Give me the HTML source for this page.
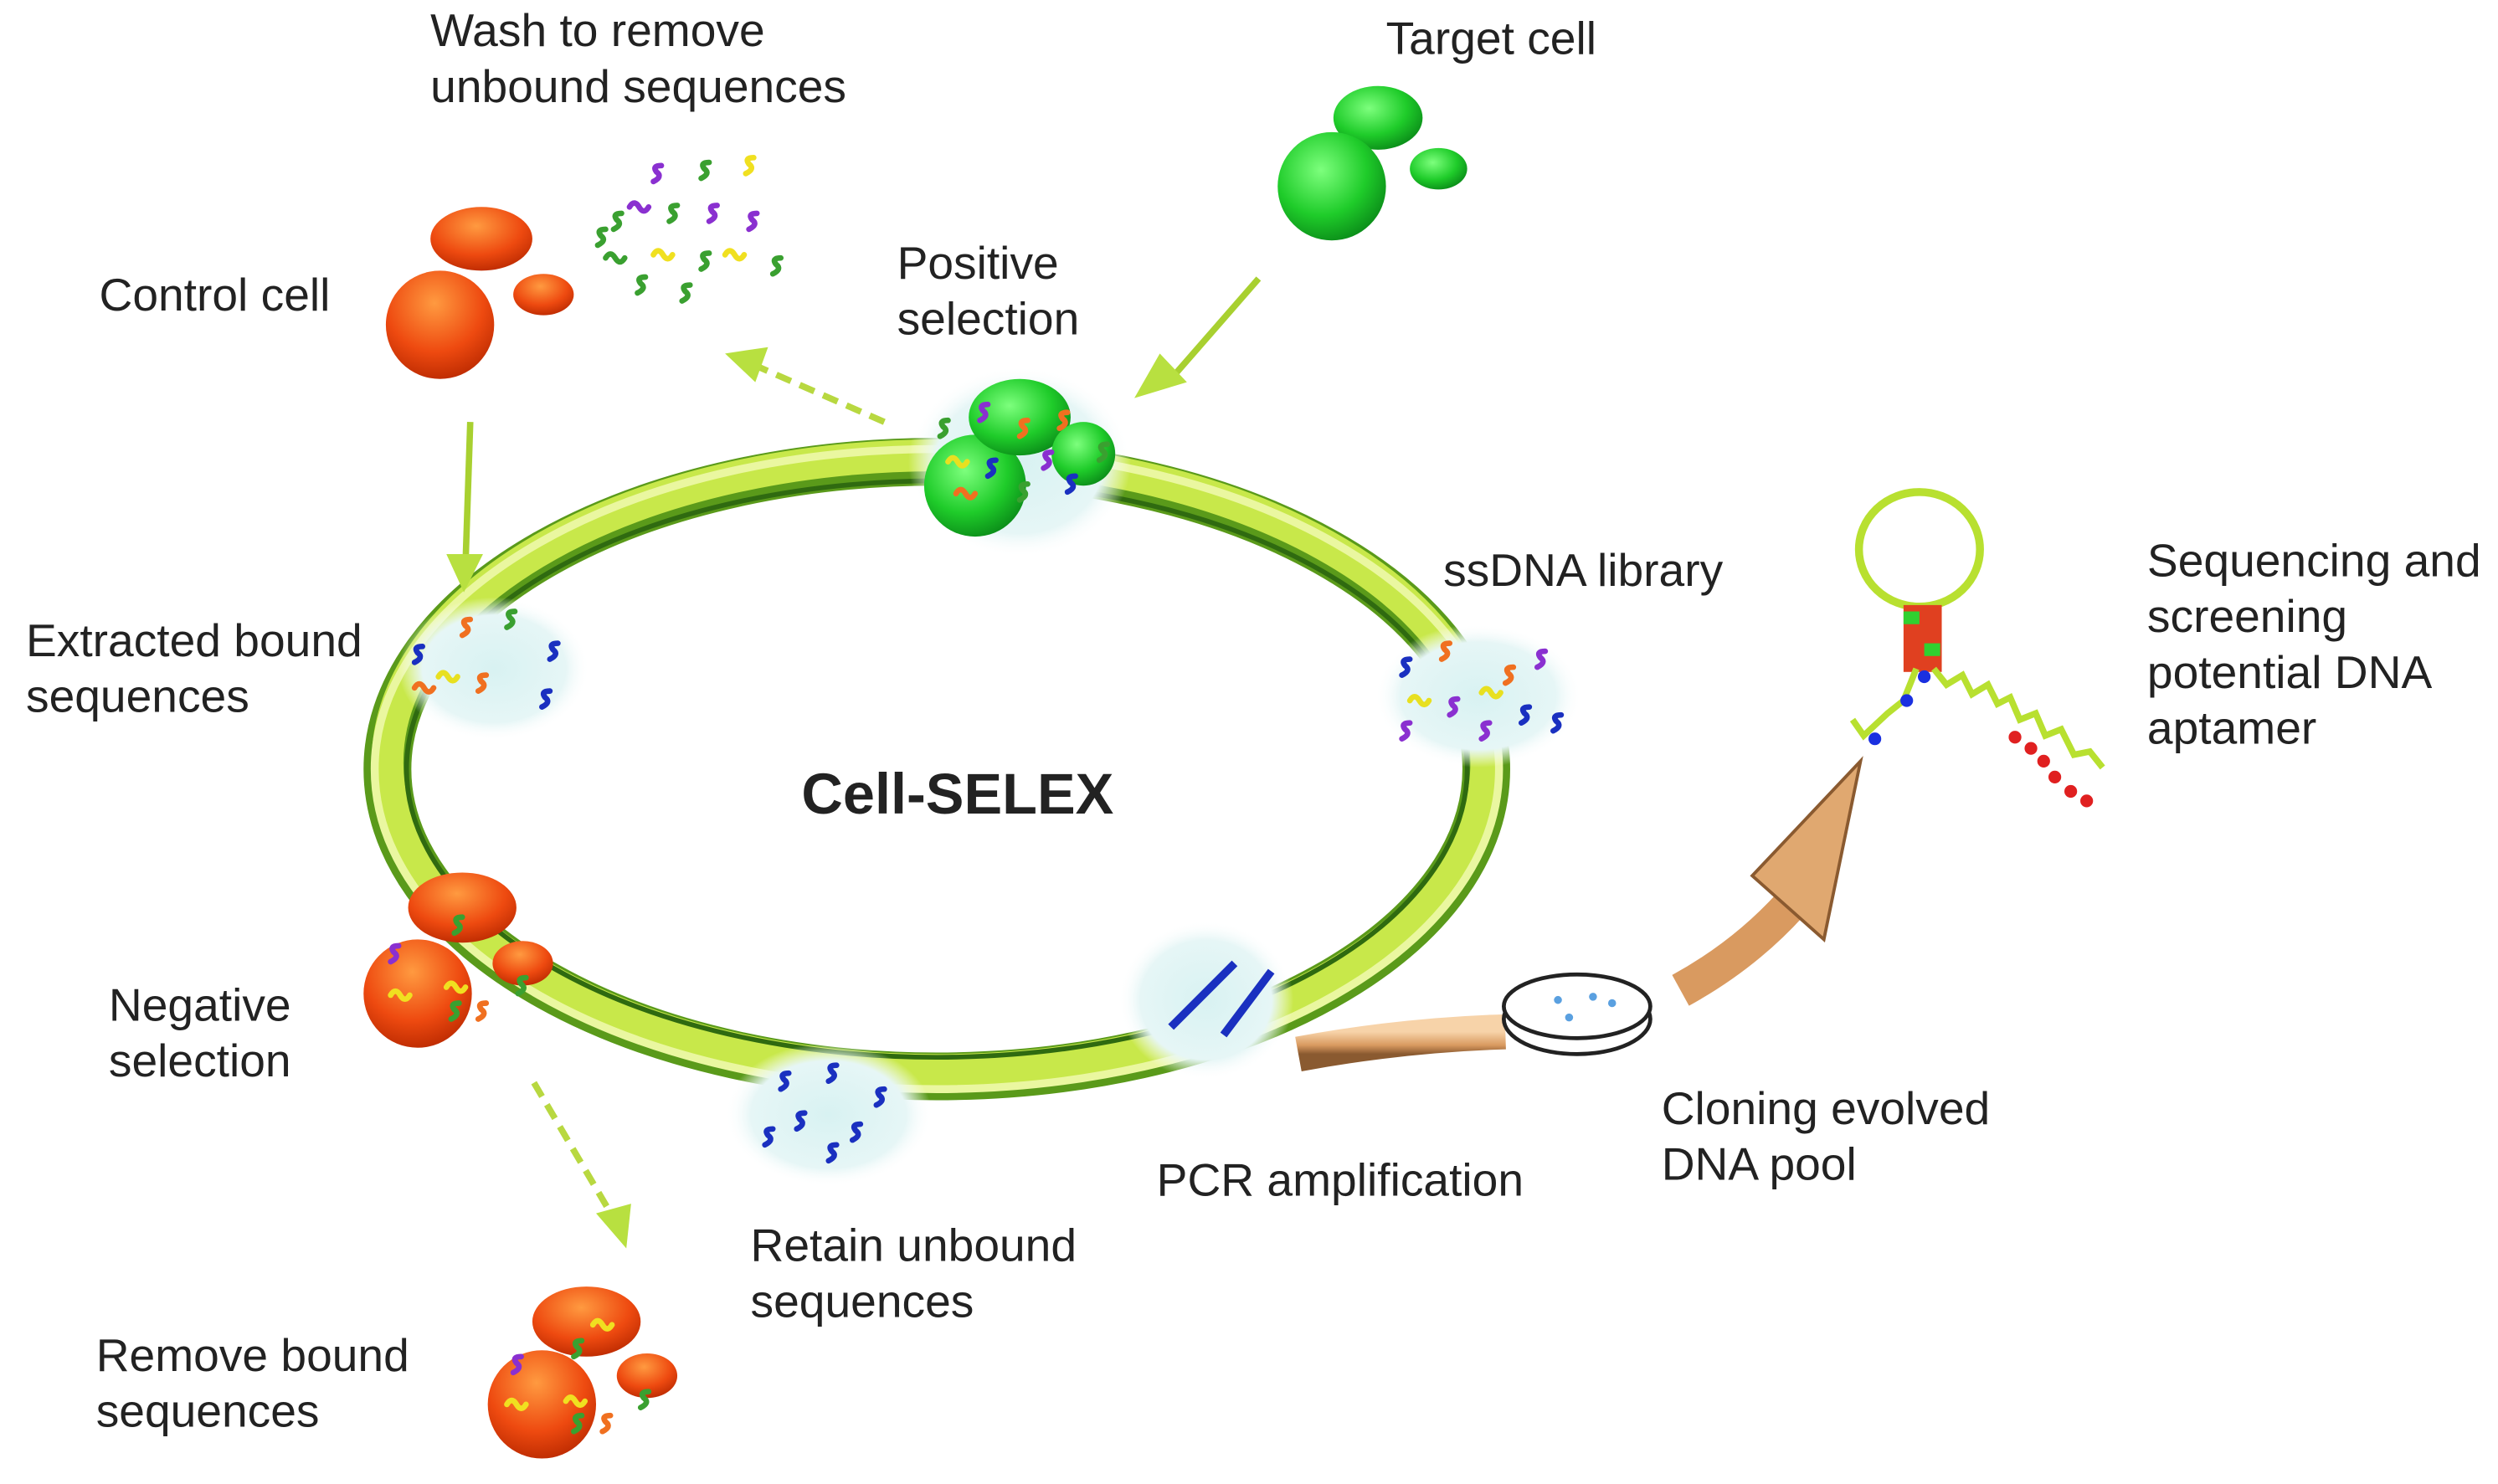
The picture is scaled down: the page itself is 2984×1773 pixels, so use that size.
<!DOCTYPE html>
<html><head><meta charset="utf-8"><style>
html,body{margin:0;padding:0;background:#fff}
svg{display:block}
text{font-family:"Liberation Sans",sans-serif;font-size:29px;fill:#222}
</style></head><body>
<svg width="2984" height="1773" viewBox="0 0 1568 932" xmlns="http://www.w3.org/2000/svg">
<defs>
<radialGradient id="gr" cx="0.4" cy="0.35" r="0.7"><stop offset="0" stop-color="#7dff7d"/><stop offset="0.6" stop-color="#1fcc2a"/><stop offset="1" stop-color="#0a8a18"/></radialGradient>
<radialGradient id="or" cx="0.45" cy="0.3" r="0.75"><stop offset="0" stop-color="#ff9a40"/><stop offset="0.6" stop-color="#ee4a10"/><stop offset="1" stop-color="#b82800"/></radialGradient>
<radialGradient id="fog" cx="0.5" cy="0.5" r="0.5"><stop offset="0" stop-color="#d8f2f2"/><stop offset="0.75" stop-color="#e6f6f6"/><stop offset="1" stop-color="#fff" stop-opacity="0"/></radialGradient>
<linearGradient id="tan" x1="0" y1="0" x2="0" y2="1"><stop offset="0" stop-color="#f7d3a9"/><stop offset="0.6" stop-color="#d99a60"/><stop offset="1" stop-color="#8a5a30"/></linearGradient>
<path id="sq" d="M0,0 q3,-5 6,0 t6,0" fill="none" stroke-width="3.5" stroke-linecap="round"/>
<path id="sg" d="M5,-6 q-6,0 -3,4 q4,3 -2,6" fill="none" stroke-width="3.5" stroke-linecap="round"/>
</defs>

<!-- ring -->
<ellipse cx="588" cy="483" rx="345" ry="193" fill="none" stroke="#5a9a1a" stroke-width="30"/>
<ellipse cx="588" cy="483" rx="345" ry="193" fill="none" stroke="#c8e84a" stroke-width="20" transform="translate(0,-4)"/>
<ellipse cx="588" cy="483" rx="353" ry="201" fill="none" stroke="#eaf7a0" stroke-width="5"/>
<ellipse cx="588" cy="483" rx="333" ry="181" fill="none" stroke="#2f6a10" stroke-width="3"/>

<!-- tan arrow -->
<path d="M815,662 Q880,650 945,648" stroke="url(#tan)" stroke-width="22" fill="none"/>
<path d="M1055,622 Q1095,600 1124,568" stroke="#d99a60" stroke-width="22" fill="none"/>
<polygon points="1168,478 1145,590 1100,550" fill="#e0a870" stroke="#8a5a30" stroke-width="2"/>

<!-- petri dish -->
<ellipse cx="990" cy="640" rx="46" ry="22" fill="#fff" stroke="#222" stroke-width="2.5"/>
<ellipse cx="990" cy="632" rx="46" ry="20" fill="#fff" stroke="#222" stroke-width="2.5"/>
<circle cx="978" cy="628" r="2.5" fill="#5aa0e0"/><circle cx="1000" cy="626" r="2.5" fill="#5aa0e0"/><circle cx="985" cy="639" r="2.5" fill="#5aa0e0"/><circle cx="1012" cy="630" r="2.5" fill="#5aa0e0"/>

<!-- fog clusters -->
<ellipse cx="310" cy="420" rx="60" ry="45" fill="url(#fog)"/>
<ellipse cx="928" cy="437" rx="65" ry="45" fill="url(#fog)"/>
<ellipse cx="520" cy="700" rx="65" ry="45" fill="url(#fog)"/>
<ellipse cx="757" cy="628" rx="55" ry="50" fill="url(#fog)"/>
<ellipse cx="640" cy="290" rx="70" ry="60" fill="url(#fog)"/>

<!-- positive selection green -->
<circle cx="612" cy="305" r="32" fill="url(#gr)"/>
<ellipse cx="640" cy="262" rx="32" ry="24" fill="url(#gr)"/>
<circle cx="680" cy="285" r="20" fill="url(#gr)"/>

<!-- squiggles -->
<g>
<use href="#sg" x="290" y="395" stroke="#f07020"/><use href="#sg" x="318" y="390" stroke="#3aa030"/><use href="#sg" x="260" y="412" stroke="#1a30c0"/>
<use href="#sq" x="275" y="425" stroke="#e8e020"/><use href="#sg" x="345" y="410" stroke="#1a30c0"/><use href="#sg" x="300" y="430" stroke="#f07020"/><use href="#sg" x="340" y="440" stroke="#1a30c0"/><use href="#sq" x="260" y="432" stroke="#f07020"/>
<use href="#sg" x="880" y="420" stroke="#1a30c0"/><use href="#sg" x="905" y="410" stroke="#f07020"/><use href="#sg" x="945" y="425" stroke="#f07020"/><use href="#sg" x="965" y="415" stroke="#8a30d0"/>
<use href="#sq" x="885" y="440" stroke="#e8e020"/><use href="#sg" x="910" y="445" stroke="#8a30d0"/><use href="#sg" x="955" y="450" stroke="#1a30c0"/><use href="#sg" x="975" y="455" stroke="#1a30c0"/><use href="#sg" x="880" y="460" stroke="#8a30d0"/><use href="#sg" x="930" y="460" stroke="#8a30d0"/><use href="#sq" x="930" y="435" stroke="#e8e020"/>
<use href="#sg" x="490" y="680" stroke="#1a30c0"/><use href="#sg" x="520" y="675" stroke="#1a30c0"/><use href="#sg" x="550" y="690" stroke="#1a30c0"/><use href="#sg" x="500" y="705" stroke="#1a30c0"/><use href="#sg" x="535" y="712" stroke="#1a30c0"/><use href="#sg" x="480" y="715" stroke="#1a30c0"/><use href="#sg" x="520" y="725" stroke="#1a30c0"/>
<path d="M735,645 q20,-20 40,-40 M768,650 q15,-20 30,-40" stroke="#1a30c0" stroke-width="5" fill="none"/>
<use href="#sg" x="590" y="270" stroke="#3aa030"/><use href="#sg" x="615" y="260" stroke="#8a30d0"/><use href="#sg" x="640" y="270" stroke="#f07020"/><use href="#sg" x="665" y="265" stroke="#f07020"/><use href="#sq" x="595" y="290" stroke="#e8e020"/><use href="#sg" x="620" y="295" stroke="#1a30c0"/><use href="#sg" x="655" y="290" stroke="#8a30d0"/><use href="#sg" x="690" y="285" stroke="#3aa030"/><use href="#sq" x="600" y="310" stroke="#f07020"/><use href="#sg" x="640" y="310" stroke="#3aa030"/><use href="#sg" x="670" y="305" stroke="#1a30c0"/>
</g>

<!-- washed sequences -->
<g>
<use href="#sg" x="410" y="110" stroke="#8a30d0"/><use href="#sg" x="440" y="108" stroke="#3aa030"/><use href="#sg" x="468" y="105" stroke="#f0e020"/><use href="#sg" x="385" y="140" stroke="#3aa030"/><use href="#sq" x="395" y="130" stroke="#8a30d0"/><use href="#sg" x="420" y="135" stroke="#3aa030"/><use href="#sg" x="445" y="135" stroke="#8a30d0"/><use href="#sg" x="470" y="140" stroke="#8a30d0"/><use href="#sq" x="380" y="162" stroke="#3aa030"/><use href="#sq" x="410" y="160" stroke="#f0e020"/><use href="#sg" x="440" y="165" stroke="#3aa030"/><use href="#sg" x="485" y="168" stroke="#3aa030"/><use href="#sg" x="400" y="180" stroke="#3aa030"/><use href="#sq" x="455" y="160" stroke="#f0e020"/><use href="#sg" x="375" y="150" stroke="#3aa030"/><use href="#sg" x="428" y="185" stroke="#3aa030"/>
</g>

<!-- target cells -->
<ellipse cx="865" cy="74" rx="28" ry="20" fill="url(#gr)"/>
<circle cx="836" cy="117" r="34" fill="url(#gr)"/>
<ellipse cx="903" cy="106" rx="18" ry="13" fill="url(#gr)"/>

<!-- control cells -->
<ellipse cx="302" cy="150" rx="32" ry="20" fill="url(#or)"/>
<circle cx="276" cy="204" r="34" fill="url(#or)"/>
<ellipse cx="341" cy="185" rx="19" ry="13" fill="url(#or)"/>

<!-- negative selection cells -->
<ellipse cx="290" cy="570" rx="34" ry="22" fill="url(#or)"/>
<circle cx="262" cy="624" r="34" fill="url(#or)"/>
<ellipse cx="328" cy="605" rx="19" ry="14" fill="url(#or)"/>
<use href="#sg" x="245" y="600" stroke="#8a30d0"/><use href="#sg" x="285" y="582" stroke="#3aa030"/><use href="#sq" x="245" y="625" stroke="#f0e020"/><use href="#sq" x="280" y="620" stroke="#f0e020"/><use href="#sg" x="283" y="636" stroke="#3aa030"/><use href="#sg" x="300" y="636" stroke="#f07020"/><use href="#sg" x="325" y="620" stroke="#3aa030"/>

<!-- remove bound cells -->
<ellipse cx="368" cy="830" rx="34" ry="22" fill="url(#or)"/>
<circle cx="340" cy="882" r="34" fill="url(#or)"/>
<ellipse cx="406" cy="864" rx="19" ry="14" fill="url(#or)"/>
<use href="#sg" x="322" y="858" stroke="#8a30d0"/><use href="#sq" x="372" y="832" stroke="#f0e020"/><use href="#sg" x="360" y="848" stroke="#3aa030"/><use href="#sq" x="318" y="882" stroke="#f0e020"/><use href="#sq" x="355" y="880" stroke="#f0e020"/><use href="#sg" x="360" y="895" stroke="#3aa030"/><use href="#sg" x="378" y="895" stroke="#f07020"/><use href="#sg" x="402" y="880" stroke="#3aa030"/>

<!-- arrows -->
<path d="M790,175 L735,238" stroke="#a8d030" stroke-width="4" fill="none"/>
<path d="M712,250 L728,222 L745,240 Z" fill="#b8e040"/>
<path d="M295,265 L292,355" stroke="#a8d030" stroke-width="4" fill="none"/>
<path d="M291,372 L280,348 L303,348 Z" fill="#b8e040"/>
<path d="M555,265 L475,230" stroke="#b8d840" stroke-width="4" stroke-dasharray="10,6" fill="none"/>
<path d="M455,222 L482,218 L474,240 Z" fill="#b8e040"/>
<path d="M335,680 L385,765" stroke="#b8d840" stroke-width="4" stroke-dasharray="10,6" fill="none"/>
<path d="M393,784 L374,762 L396,756 Z" fill="#b8e040"/>

<!-- aptamer -->
<ellipse cx="1205" cy="345" rx="38" ry="36" fill="none" stroke="#b8e030" stroke-width="5"/>
<rect x="1195" y="380" width="24" height="42" fill="#e04020"/>
<rect x="1195" y="384" width="10" height="8" fill="#30d030"/><rect x="1208" y="404" width="10" height="8" fill="#30d030"/>
<path d="M1203,420 L1195,440 L1185,448 L1170,462 L1163,452" stroke="#b8e030" stroke-width="4" fill="none"/>
<path d="M1214,420 l8,10 l10,-6 l6,12 l10,-6 l6,12 l8,-4 l6,14 l10,-4 l6,14 l10,-4 l8,16 l10,-2 l8,10" stroke="#b8e030" stroke-width="4" fill="none"/>
<g fill="#e02020"><circle cx="1265" cy="463" r="4"/><circle cx="1275" cy="470" r="4"/><circle cx="1283" cy="478" r="4"/><circle cx="1290" cy="488" r="4"/><circle cx="1300" cy="497" r="4"/><circle cx="1310" cy="503" r="4"/></g>
<g fill="#1a30e0"><circle cx="1208" cy="425" r="4"/><circle cx="1197" cy="440" r="4"/><circle cx="1177" cy="464" r="4"/></g>

<!-- labels -->
<text x="270" y="29">Wash to remove</text>
<text x="270" y="64">unbound sequences</text>
<text x="870" y="34">Target cell</text>
<text x="62" y="195">Control cell</text>
<text x="563" y="175">Positive</text>
<text x="563" y="210">selection</text>
<text x="906" y="368">ssDNA library</text>
<text x="1348" y="362">Sequencing and</text>
<text x="1348" y="397">screening</text>
<text x="1348" y="432">potential DNA</text>
<text x="1348" y="467">aptamer</text>
<text x="16" y="412">Extracted bound</text>
<text x="16" y="447">sequences</text>
<text x="503" y="511" style="font-weight:bold;font-size:36px">Cell-SELEX</text>
<text x="68" y="641">Negative</text>
<text x="68" y="676">selection</text>
<text x="1043" y="706">Cloning evolved</text>
<text x="1043" y="741">DNA pool</text>
<text x="726" y="751">PCR amplification</text>
<text x="471" y="792">Retain unbound</text>
<text x="471" y="827">sequences</text>
<text x="60" y="861">Remove bound</text>
<text x="60" y="896">sequences</text>
</svg>
</body></html>
